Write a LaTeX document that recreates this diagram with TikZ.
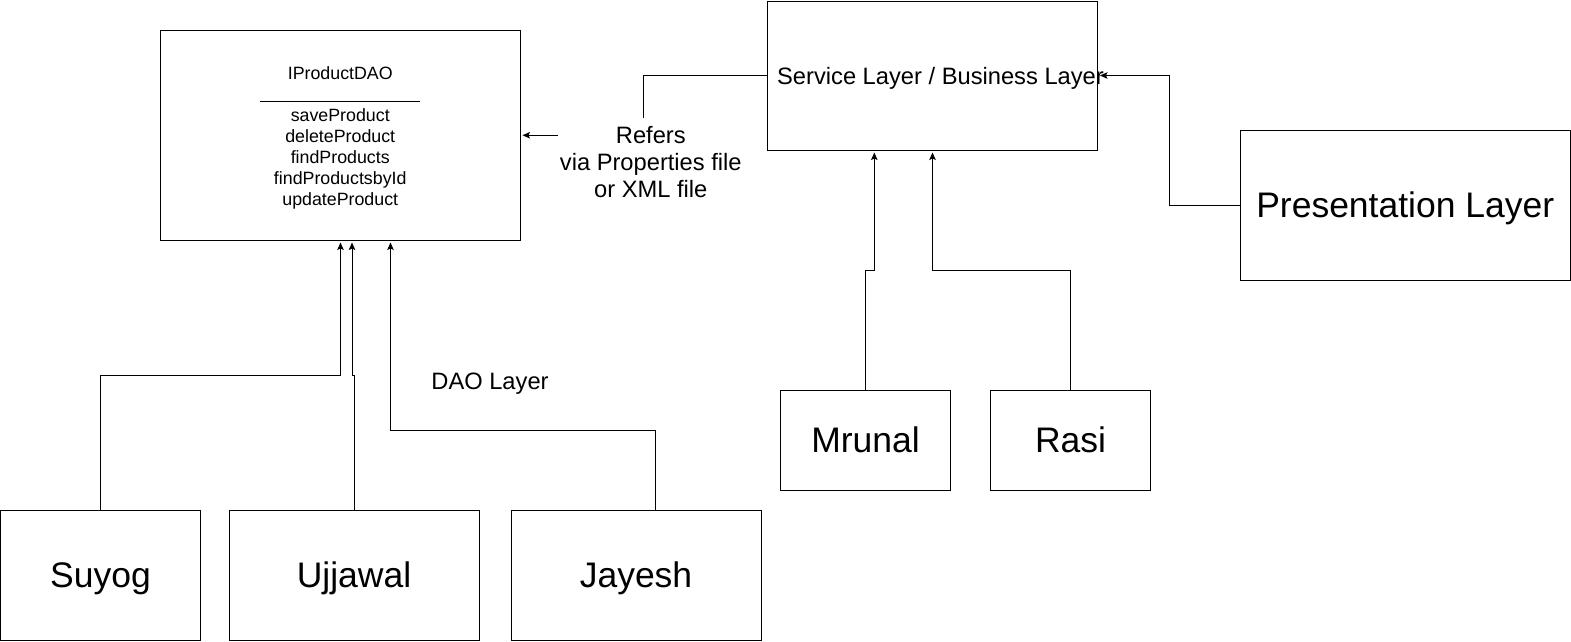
\documentclass[tikz,border=0pt]{standalone}
\usepackage{fontspec}
\setmainfont{Liberation Sans}
\usetikzlibrary{arrows.meta}
\begin{document}
\begin{tikzpicture}[x=1pt,y=-1pt,
  box/.style={draw,line width=1pt,inner sep=0pt},
  bigtext/.style={font=\fontsize{35.5}{40}\selectfont,text height=25pt,text depth=1pt},
  midtext/.style={font=\fontsize{23.7}{26.7}\selectfont},
  smalltext/.style={font=\fontsize{17.8}{20.8}\selectfont},
  arr/.style={line width=1pt,-{Stealth[length=7.5pt,width=6.5pt,inset=1.5pt]},shorten >=2pt},
  rule/.style={line width=1pt}]
\useasboundingbox (0,0) rectangle (1571,641);

% DAO interface box
\node[box,minimum width=359.5pt,minimum height=209.5pt] (dao) at (340.25,135.25) {};
\node[smalltext,anchor=base] (daotitle) at (340.25,79.5) {IProductDAO};
\coordinate (sepL) at (260,101);
\coordinate (sepR) at (420,101);
\draw[rule] (sepL) -- (sepR);
\node[smalltext,align=center] (daomethods) at (340.25,158.8) {saveProduct\\deleteProduct\\findProducts\\findProductsbyId\\updateProduct};

% Service layer
\node[box,minimum width=330.5pt,minimum height=149pt] (svc) at (932.25,75.5) {};

% Presentation
\node[box,bigtext,minimum width=329.5pt,minimum height=149.5pt] (pres) at (1405.25,205.25) {Presentation Layer};

% Service implementations
\node[box,bigtext,minimum width=170pt,minimum height=100pt] (mrunal) at (865.5,440) {Mrunal};
\node[box,bigtext,minimum width=160pt,minimum height=100pt] (rasi) at (1070.5,440) {Rasi};

% DAO implementations
\node[box,bigtext,minimum width=200pt,minimum height=130pt] (suyog) at (100.5,575) {Suyog};
\node[box,bigtext,minimum width=250pt,minimum height=130pt] (ujjawal) at (354,575) {Ujjawal};
\node[box,bigtext,minimum width=250pt,minimum height=130pt] (jayesh) at (636,575) {Jayesh};

% connectors
\draw[arr] (svc.west) -| (643.6,135.25) -- (dao.east);
\node[midtext,align=center,fill=white,inner xsep=2pt,inner ysep=9pt] (refers) at (650.8,162) {Refers\\via Properties file\\or XML file};

\draw[arr] (suyog.north) |- (340.5,375) -- (340.5,375 |- dao.south);
\draw[arr] (ujjawal.north) |- (352,375) -- (352,375 |- dao.south);
\draw[arr] (655.7,0 |- jayesh.north) |- (390.5,430) -- (390.5,430 |- dao.south);

\draw[arr] (mrunal.north) |- (874.3,270) -- (874.3,270 |- svc.south);
\draw[arr] (rasi.north) |- (932.5,270) -- (932.5,270 |- svc.south);
\draw[arr] (pres.west) -| (1169,75.5) -- (svc.east);

\node[midtext,anchor=base] (svctext) at (940.5,84.5) {Service Layer / Business Layer};
\node[midtext,anchor=base] (daolayer) at (490,389) {DAO Layer};
\end{tikzpicture}
\end{document}
